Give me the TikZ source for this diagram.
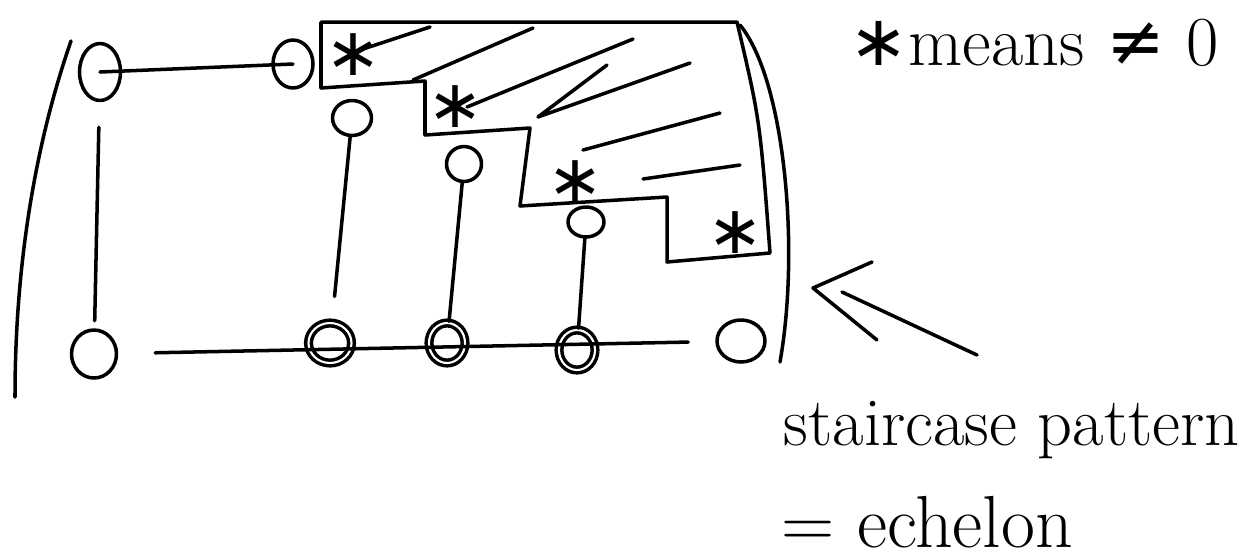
\documentclass[tikz,border=0pt]{standalone}
\usepackage{fontspec}
\newfontfamily\symfont{DejaVu Sans}
\usepackage{tikz}
\usetikzlibrary{positioning,shapes}

\begin{document}
\begin{tikzpicture}[x=0.02cm,y=-0.02cm,line width=2pt,line cap=round,line join=round,
    entry/.style={draw,shape=ellipse,inner sep=0pt},
    pivot/.style={entry,double,double distance=1.2pt},
    star/.style={inner sep=0pt,font=\fontsize{38}{38}\symfont},
    hand/.style={inner sep=0pt,font=\fontsize{#1}{#1}\selectfont}]
\useasboundingbox (0,0) rectangle (1258,559);
      % brackets
      \draw (71,41) .. controls (40,130) and (15,250) .. (15,397);
      \draw (740,25) .. controls (785,80) and (800,250) .. (780,362);
      % staircase
      \draw (321,22) -- (321,88) -- (425,81) -- (425,135) -- (530,128) -- (520,206)
        -- (667,197) -- (667,262) -- (770,253) .. controls (760,120) .. (737,22) -- cycle;
      \draw (430,27) -- (360,50)
        (533,28) -- (413,80)
        (633,39) -- (467,107)
        (607,65) -- (538,117) -- (690,63)
        (720,113) -- (583,150)
        (740,165) -- (643,179);
\foreach \x/\y/\n in {353/55/1,455/107/2,575/182/3,735/233/4}
  \draw node (s\n) at (\x,\y) [star]{∗};

      \draw node (t1) at (100,72) [entry,minimum width=0.82cm,minimum height=1.14cm]{};
      \draw node (t2) at (293,64) [entry,minimum width=0.8cm,minimum height=0.96cm]{};
      \draw node (m1) at (352,118) [entry,minimum width=0.78cm,minimum height=0.7cm]{};
      \draw node (m2) at (464,164) [entry,minimum width=0.7cm,minimum height=0.7cm]{};
      \draw node (m3) at (586,222) [entry,minimum width=0.72cm,minimum height=0.6cm]{};
      \draw node (b1) at (94,354) [entry,minimum width=0.9cm,minimum height=0.96cm]{};
      \draw node (b2) at (330,343) [pivot,minimum width=0.86cm,minimum height=0.8cm]{};
      \draw node (b3) at (447,343) [pivot,minimum width=0.72cm,minimum height=0.8cm]{};
      \draw node (b4) at (577,350) [pivot,minimum width=0.72cm,minimum height=0.8cm]{};
      \draw node (b5) at (741,341) [entry,minimum width=0.96cm,minimum height=0.84cm]{};
\draw (t1.center) -- (t2.center);
\draw [shorten <=0.5cm,shorten >=0.15cm] (t1) -- (b1);
\draw [shorten >=0.5cm] (m1) -- (b2);
\draw (m2) -- (b3);
\draw (m3) -- (b4);
\draw [shorten <=0.74cm,shorten >=0.54cm] (b1) -- (b5);

      % pointer and notes
      \coordinate (tip) at (813,288);
      \draw (872,262) -- (tip) -- (877,340)
        (842,292) -- (977,355);
      \draw node (legend) at (848,65) [hand=40,anchor=base west]{{\fontsize{40}{40}\symfont ∗}means {\symfont ≠} 0};
      \draw node (name) at (782,445) [hand=39,anchor=base west]{staircase pattern};
      \draw node (alias) at (780,547) [hand=42,anchor=base west]{= echelon};
\end{tikzpicture}
\end{document}
